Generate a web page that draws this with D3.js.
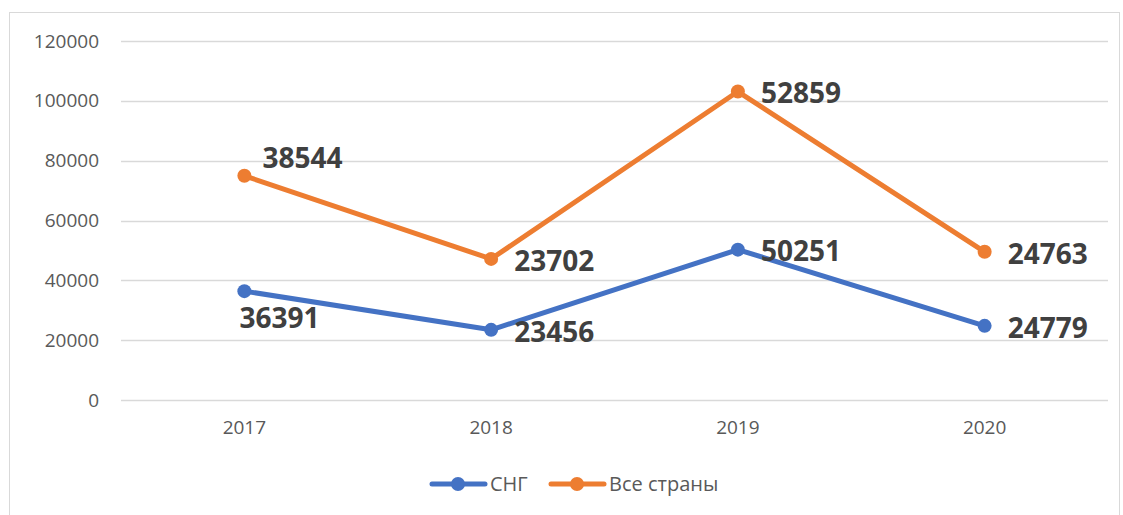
<!DOCTYPE html>
<html>
<head>
<meta charset="utf-8">
<script src="https://cdn.jsdelivr.net/npm/d3@7"></script>
<style>
  body { margin: 0; background: #fff; }
  svg { display: block; font-family: "Open Sans", "Noto Sans", sans-serif; }
</style>
</head>
<body>
<svg id="chart" width="1123" height="515"></svg>
<script>
// data
const years   = ["2017", "2018", "2019", "2020"];
const cis     = [36391, 23456, 50251, 24779];   // СНГ
const allCtry = [38544, 23702, 52859, 24763];   // Все страны (stacked on top of СНГ)
const yTicks  = [0, 20000, 40000, 60000, 80000, 100000, 120000];
const seriesNames = ["СНГ", "Все страны"];

const blue = "#4472C4", orange = "#ED7D31";

const svg = d3.select("#chart");

// outer chart border
svg.append("rect")
  .attr("x", 9.5).attr("y", 12.5)
  .attr("width", 1110).attr("height", 520)
  .attr("fill", "none")
  .attr("stroke", "#d9d9d9");

const x = d3.scaleBand().domain(years).range([121, 1108]);
const y = d3.scaleLinear().domain([0, 120000]).range([400, 41]);

// gridlines
svg.append("g")
  .selectAll("line")
  .data(yTicks)
  .join("line")
  .attr("x1", 121).attr("x2", 1108)
  .attr("y1", d => Math.round(y(d)) + 0.5)
  .attr("y2", d => Math.round(y(d)) + 0.5)
  .attr("stroke", "#d9d9d9")
  .attr("stroke-width", 1.3);

// y axis labels
const yAxis = svg.append("g")
  .attr("transform", "translate(99,0)")
  .call(d3.axisLeft(y).tickValues(yTicks).tickSize(0).tickPadding(0).tickFormat(d3.format("d")));
yAxis.select(".domain").remove();
yAxis.selectAll("text")
  .attr("fill", "#595959")
  .style("font-size", "19px")
  .style("font-family", "'Open Sans', sans-serif");

// x axis labels
const xAxis = svg.append("g")
  .attr("transform", "translate(0,400)")
  .call(d3.axisBottom(x).tickSize(0).tickPadding(21));
xAxis.select(".domain").remove();
xAxis.selectAll("text")
  .attr("fill", "#595959")
  .style("font-size", "19px")
  .style("font-family", "'Open Sans', sans-serif");

// stacked values
const stackedTop = allCtry.map((v, i) => v + cis[i]);
const cx = d => x(d) + x.bandwidth() / 2;

const line = d3.line().x(d => cx(d.year)).y(d => y(d.v));

const series = [
  { name: seriesNames[0], color: blue,
    pts: years.map((yr, i) => ({ year: yr, v: cis[i], label: cis[i], i })) },
  { name: seriesNames[1], color: orange,
    pts: years.map((yr, i) => ({ year: yr, v: stackedTop[i], label: allCtry[i], i })) }
];

series.forEach(s => {
  svg.append("path")
    .attr("d", line(s.pts))
    .attr("fill", "none")
    .attr("stroke", s.color)
    .attr("stroke-width", 5)
    .attr("stroke-linejoin", "round");
  svg.append("g")
    .selectAll("circle")
    .data(s.pts)
    .join("circle")
    .attr("cx", d => cx(d.year))
    .attr("cy", d => y(d.v))
    .attr("r", 7)
    .attr("fill", s.color);
});

// data labels
series.forEach((s, si) => {
  svg.append("g")
    .selectAll("text")
    .data(s.pts)
    .join("text")
    .attr("x", d => {
      if (d.i === 0) return cx(d.year) + (si === 0 ? -5 : 18);
      return cx(d.year) + 23;
    })
    .attr("y", d => {
      if (d.i === 0) return y(d.v) + (si === 0 ? 27 : -18);
      return y(d.v) + 2;
    })
    .attr("dy", "0.35em")
    .attr("fill", "#404040")
    .style("font-size", "28px")
    .style("font-weight", "bold")
    .text(d => d.label);
});

// legend
const legend = svg.append("g").attr("transform", "translate(0,484)");
const legendItems = [
  { name: seriesNames[0], color: blue, x0: 432 },
  { name: seriesNames[1], color: orange, x0: 551 }
];
legendItems.forEach(it => {
  legend.append("line")
    .attr("x1", it.x0).attr("x2", it.x0 + 53)
    .attr("y1", 0).attr("y2", 0)
    .attr("stroke", it.color)
    .attr("stroke-width", 5)
    .attr("stroke-linecap", "round");
  legend.append("circle")
    .attr("cx", it.x0 + 26).attr("cy", 0).attr("r", 7)
    .attr("fill", it.color);
  legend.append("text")
    .attr("x", it.x0 + 58).attr("y", 0)
    .attr("dy", "0.35em")
    .attr("fill", "#595959")
    .style("font-size", "20px")
    .text(it.name);
});
</script>
</body>
</html>
